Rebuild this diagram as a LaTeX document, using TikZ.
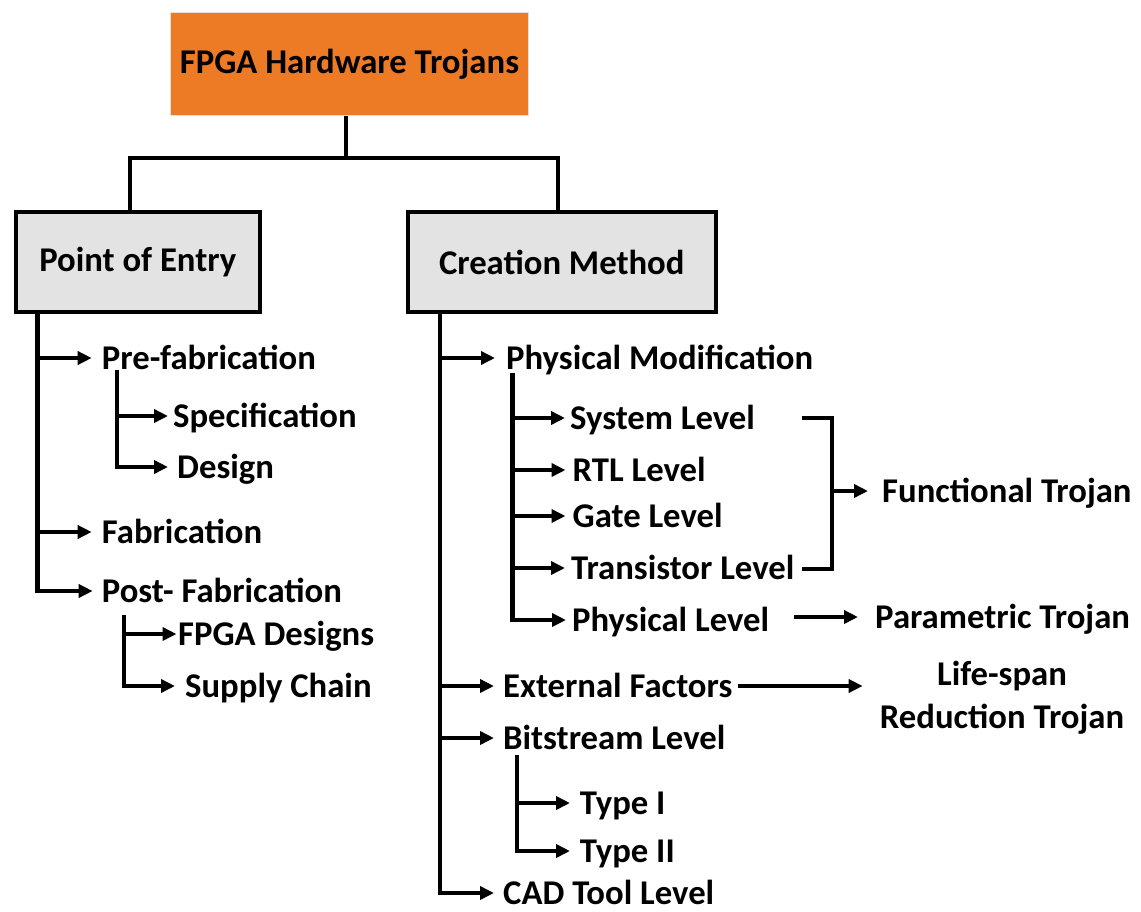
\documentclass[tikz,border=0pt]{standalone}
\usepackage{fontspec}
\setmainfont{Carlito}
\usetikzlibrary{arrows.meta,calc}
\definecolor{rootorange}{HTML}{ED7A25}
\definecolor{catgray}{HTML}{E3E3E3}
\begin{document}
\begin{tikzpicture}[x=1pt,y=-1pt,
  txt/.style={font=\bfseries\fontsize{34.7}{43}\selectfont},
  lbl/.style={txt,anchor=west,inner sep=0pt,text height=22pt,text depth=0pt},
  link/.style={line width=4.2pt,line join=miter},
  arr/.style={link,-{Triangle[length=14pt,width=13pt]}},
  catbox/.style={txt,draw,line width=4pt,fill=catgray,minimum height=100pt,inner sep=0pt}
]
\useasboundingbox (0,0) rectangle (1141,911);

% --- headers ---
\node[txt,fill=rootorange,draw=black!12,line width=0.8pt,minimum width=358pt,minimum height=103pt,inner sep=0pt]
  (root) at (349.5,64) {FPGA Hardware Trojans};
\node[catbox,minimum width=244.5pt] (poe) at (137.75,262) {Point of Entry};
\node[catbox,minimum width=308.5pt] (cm) at (561.75,262) {Creation Method};

\coordinate (j)  at (346,157.7);
\coordinate (xl) at (130,0);
\coordinate (xr) at (558,0);
\draw[link] (j |- root.south) -- (j);
\draw[link] (xl |- poe.north) |- (j) -| (xr |- cm.north);

% --- point of entry branch ---
\node[lbl] (pre)    at (101.7,358) {Pre-fabrication};
\node[lbl] (spec)   at (173,416)   {Specification};
\node[lbl] (design) at (177,467)   {Design};
\node[lbl] (fab)    at (101.7,532) {Fabrication};
\node[lbl] (post)   at (101.7,591) {Post- Fabrication};
\node[lbl] (fpgad)  at (178,634)   {FPGA Designs};
\node[lbl] (supply) at (185,686)   {Supply Chain};

\coordinate (tl) at (37.5,0);
\draw[arr] (tl |- poe.south) |- ([xshift=-9pt]post.west);
\draw[arr] (tl |- pre.west) -- ([xshift=-10pt]pre.west);
\draw[arr] (tl |- fab.west) -- ([xshift=-10pt]fab.west);

\coordinate (s1) at (117.3,370);
\draw[arr] (s1) |- ([xshift=-9pt]design.west);
\draw[arr] (s1 |- spec.west) -- ([xshift=-5pt]spec.west);

\coordinate (s2) at (124,615);
\draw[arr] (s2) |- ([xshift=-10pt]supply.west);
\draw[arr] (s2 |- fpgad.west) -- ([xshift=-1.5pt]fpgad.west);

% --- creation method branch ---
\node[lbl] (phys)  at (506,358)   {Physical Modification};
\node[lbl] (sys)   at (570,418)   {System Level};
\node[lbl] (rtl)   at (572.5,470) {RTL Level};
\node[lbl] (gate)  at (572.5,516) {Gate Level};
\node[lbl] (trans) at (571,568)   {Transistor Level};
\node[lbl] (physl) at (572,620)   {Physical Level};
\node[lbl] (func)  at (882,491)   {Functional Trojan};
\node[lbl] (param) at (875,617)   {Parametric Trojan};
\node[lbl] (ext)   at (503,686)   {External Factors};
\node[txt,align=center,inner sep=0pt] (life) at (1002,698) {Life-span\\Reduction Trojan};
\node[lbl] (bit)   at (503,738)   {Bitstream Level};
\node[lbl] (t1)    at (579.6,803) {Type I};
\node[lbl] (t2)    at (579.6,851) {Type II};
\node[lbl] (cad)   at (503,893)   {CAD Tool Level};

\coordinate (tr) at (440,0);
\draw[arr] (tr |- cm.south) |- ([xshift=-9pt]cad.west);
\draw[arr] (tr |- phys.west) -- ([xshift=-11pt]phys.west);
\draw[arr] (tr |- ext.west) -- ([xshift=-9pt]ext.west);
\draw[arr] (tr |- bit.west) -- ([xshift=-9pt]bit.west);

\coordinate (s3) at (512.5,373);
\draw[arr] (s3) |- ([xshift=-6pt]physl.west);
\draw[arr] (s3 |- sys.west)   -- ([xshift=-5pt]sys.west);
\draw[arr] (s3 |- rtl.west)   -- ([xshift=-7pt]rtl.west);
\draw[arr] (s3 |- gate.west)  -- ([xshift=-7pt]gate.west);
\draw[arr] (s3 |- trans.west) -- ([xshift=-6pt]trans.west);

\coordinate (s4) at (516.7,755);
\draw[arr] (s4) |- ([xshift=-9.6pt]t2.west);
\draw[arr] (s4 |- t1.west) -- ([xshift=-9.6pt]t1.west);

% bracket gathering the functional levels
\coordinate (bt) at (802,418);
\coordinate (bb) at (802,569);
\coordinate (bx) at (832,491);
\draw[link] (bt) -| (bx) |- (bb);
\draw[arr] (bx) -- ([xshift=-14pt]func.west);

\draw[arr] ($(physl.east |- param.west)+(25,0)$) -- ([xshift=-17pt]param.west);
\draw[arr] ([xshift=5pt]ext.east) -- ($(life.west |- ext.west)+(-17,0)$);
\end{tikzpicture}
\end{document}
